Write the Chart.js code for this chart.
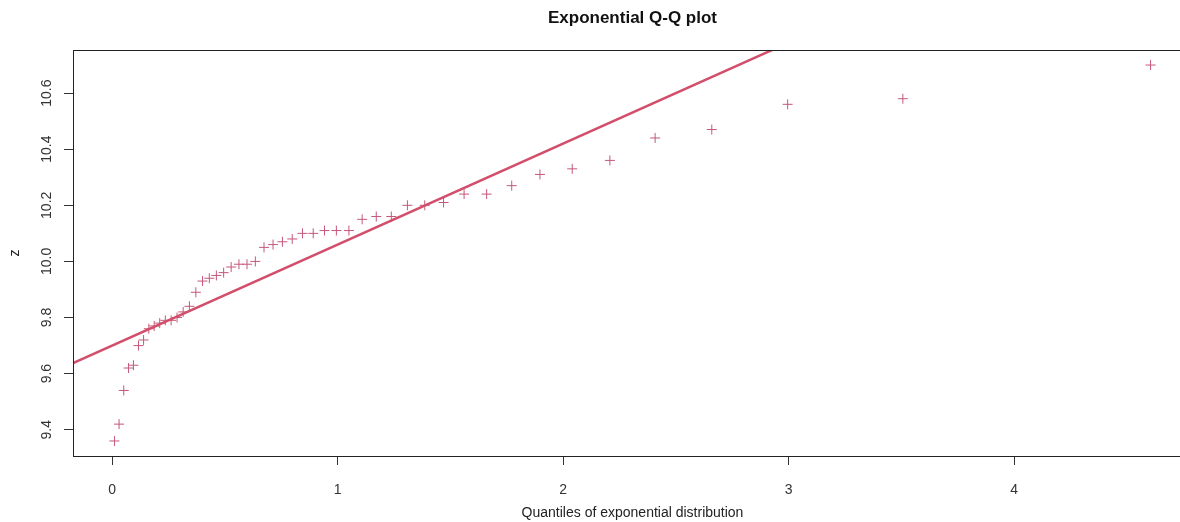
<!DOCTYPE html>
<html><head><meta charset="utf-8">
<script src="https://cdn.jsdelivr.net/npm/chart.js@4.4.1/dist/chart.umd.min.js"></script>
<style>
html,body{margin:0;padding:0;background:#fff;overflow:hidden;width:1180px;height:522px}
#wrap{width:1210px;height:522px}
</style>
</head><body><div id="wrap"><canvas id="c" width="1210" height="522"></canvas></div>
<script>
// Theoretical exponential quantiles (x) and sorted sample values z (y)
const expQuantiles = [0.01005,0.03046,0.05129,0.07257,0.09431,0.11653,0.13926,0.16252,0.18633,0.21072,
  0.23572,0.26136,0.28768,0.31471,0.34249,0.37106,0.40048,0.43078,0.46204,0.49430,
  0.52763,0.56212,0.59784,0.63488,0.67334,0.71335,0.75502,0.79851,0.84397,0.89160,
  0.94161,0.99425,1.04982,1.10866,1.17118,1.23787,1.30933,1.38629,1.46968,1.56065,
  1.66073,1.77196,1.89712,2.04022,2.20727,2.40795,2.65926,2.99573,3.50656,4.60517];
const sampleZ = [9.36,9.42,9.54,9.62,9.63,9.70,9.72,9.76,9.77,9.78,
  9.79,9.79,9.80,9.82,9.84,9.89,9.93,9.94,9.95,9.96,
  9.98,9.99,9.99,10.00,10.05,10.06,10.07,10.08,10.10,10.10,
  10.11,10.11,10.11,10.15,10.16,10.16,10.20,10.20,10.21,10.24,
  10.24,10.27,10.31,10.33,10.36,10.44,10.47,10.56,10.58,10.70];
const xTickValues = [0,1,2,3,4];
const yTickValues = [9.4,9.6,9.8,10.0,10.2,10.4,10.6];
const refLineX = [-0.5, 5.0];
const refLineY = [9.52, 11.50];

const FONT = '"Liberation Sans", Arial, Helvetica, sans-serif';
Chart.defaults.font.family = FONT;

const pts = expQuantiles.map((x,i)=>({x:x, y:sampleZ[i]}));
const linePts = refLineX.map((x,i)=>({x:x, y:refLineY[i]}));

const boxPlugin = {
  id:'box',
  afterDraw(chart){
    const {ctx, chartArea:a} = chart;
    ctx.save();
    ctx.strokeStyle = '#222';
    ctx.lineWidth = 1;
    ctx.strokeRect(Math.round(a.left)+0.5, Math.round(a.top)+0.5, Math.round(a.right-a.left), Math.round(a.bottom-a.top));
    ctx.restore();
  }
};

new Chart(document.getElementById('c'), {
  type:'scatter',
  data:{datasets:[
    {label:'z', data:pts, pointStyle:'cross', pointRadius:5, pointHoverRadius:5,
     borderColor:'#C4587A', backgroundColor:'#C4587A', pointBorderWidth:1, borderWidth:1, showLine:false, order:2},
    {label:'line', data:linePts, showLine:true, pointRadius:0, borderColor:'#D24E6A', borderWidth:2.5, fill:false, order:1}
  ]},
  options:{
    responsive:false, animation:false, devicePixelRatio:1,
    layout:{padding:{left:0, right:18, top:0, bottom:0}},
    plugins:{
      legend:{display:false}, tooltip:{enabled:false},
      title:{display:true, text:'Exponential Q-Q plot', fullSize:false, color:'#111',
        font:{family:FONT, size:17, weight:'bold'}, padding:{top:8, bottom:21.6}}
    },
    scales:{
      x:{type:'linear', min:-0.1738, max:4.789,
        afterBuildTicks(s){ s.ticks = xTickValues.map(v=>({value:v})); },
        afterFit(s){ s.height = 66; },
        border:{display:false},
        grid:{drawOnChartArea:false, drawTicks:true, tickLength:9, color:'#333', lineWidth:1},
        ticks:{color:'#333', font:{size:14}, padding:17, maxRotation:0, callback:v=>String(v)},
        title:{display:true, text:'Quantiles of exponential distribution', color:'#222', font:{size:14}, padding:{top:0,bottom:0}}
      },
      y:{type:'linear', min:9.3064, max:10.7536,
        afterBuildTicks(s){ s.ticks = yTickValues.map(v=>({value:v})); },
        afterFit(s){ s.width = 73; },
        border:{display:false},
        grid:{drawOnChartArea:false, drawTicks:true, tickLength:9, color:'#333', lineWidth:1},
        ticks:{color:'#333', font:{size:14}, padding:3, minRotation:90, maxRotation:90, crossAlign:'center',
          callback:v=>Number(v).toFixed(1)},
        title:{display:true, text:'z', color:'#222', font:{size:14}, padding:{top:7,bottom:0}}
      }
    }
  },
  plugins:[boxPlugin]
});
</script>
</body></html>
